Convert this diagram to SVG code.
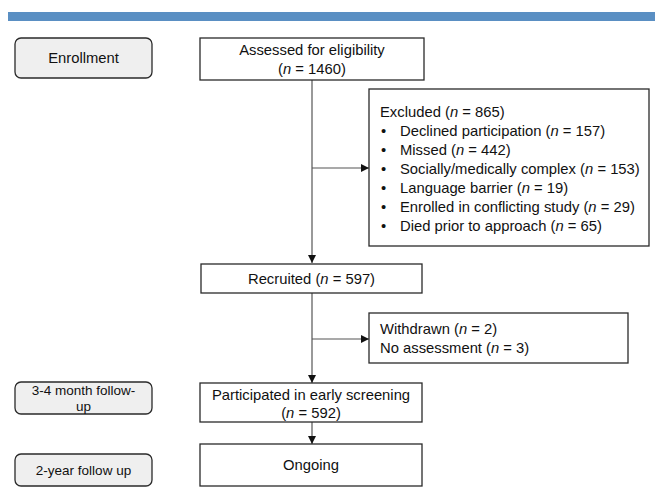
<svg xmlns="http://www.w3.org/2000/svg" width="658" height="493" viewBox="0 0 658 493">
<style>
text{font-family:"Liberation Sans",Arial,sans-serif;font-size:14.8px;fill:#111}
.i{font-style:italic}
.box{fill:#fff;stroke:#2a2a2a;stroke-width:1.3}
.side{fill:#efefef;stroke:#2a2a2a;stroke-width:1.3}
.c{text-anchor:middle}
.s{font-size:13.5px}
.ln{stroke:#555;stroke-width:1.2;fill:none}
</style>
<defs>
<marker id="ah" viewBox="0 0 10 10" refX="10" refY="5" markerWidth="8" markerHeight="8" markerUnits="userSpaceOnUse" orient="auto">
<path d="M0,0 L10,5 L0,10 z" fill="#111"/>
</marker>
</defs>
<rect x="8" y="12" width="647" height="9" fill="#5a8fc3"/>

<g id="enrollment">
<rect class="side" x="15" y="38" width="137" height="40" rx="6"/>
<text class="c" x="83.5" y="63">Enrollment</text>
</g>
<g id="followup34">
<rect class="side" x="15" y="382" width="137" height="32" rx="6"/>
<text class="c s" x="83.5" y="395">3-4 month follow-</text>
<text class="c s" x="83.5" y="411">up</text>
</g>
<g id="followup2y">
<rect class="side" x="15" y="454" width="137" height="32" rx="6"/>
<text class="c s" x="83.5" y="475">2-year follow up</text>
</g>

<g id="connectors">
<line class="ln" x1="312" y1="80" x2="312" y2="263" marker-end="url(#ah)"/>
<line class="ln" x1="312" y1="168" x2="369" y2="168" marker-end="url(#ah)"/>
<line class="ln" x1="312" y1="293" x2="312" y2="383" marker-end="url(#ah)"/>
<line class="ln" x1="312" y1="339" x2="369" y2="339" marker-end="url(#ah)"/>
<line class="ln" x1="312" y1="422" x2="312" y2="444" marker-end="url(#ah)"/>
</g>

<g id="assessed">
<rect class="box" x="200" y="38" width="224" height="42"/>
<text class="c" x="312" y="55">Assessed for eligibility</text>
<text class="c" x="312" y="74">(<tspan class="i">n</tspan> = 1460)</text>
</g>
<g id="excluded">
<rect class="box" x="369" y="89" width="280" height="157"/>
<text x="380" y="117">Excluded (<tspan class="i">n</tspan> = 865)</text>
<text x="381" y="136">•</text><text x="400" y="136">Declined participation (<tspan class="i">n</tspan> = 157)</text>
<text x="381" y="155">•</text><text x="400" y="155">Missed (<tspan class="i">n</tspan> = 442)</text>
<text x="381" y="174">•</text><text x="400" y="174">Socially/medically complex (<tspan class="i">n</tspan> = 153)</text>
<text x="381" y="193">•</text><text x="400" y="193">Language barrier (<tspan class="i">n</tspan> = 19)</text>
<text x="381" y="212">•</text><text x="400" y="212">Enrolled in conflicting study (<tspan class="i">n</tspan> = 29)</text>
<text x="381" y="231">•</text><text x="400" y="231">Died prior to approach (<tspan class="i">n</tspan> = 65)</text>
</g>
<g id="recruited">
<rect class="box" x="201" y="264" width="221" height="29"/>
<text class="c" x="311.5" y="284">Recruited (<tspan class="i">n</tspan> = 597)</text>
</g>
<g id="withdrawn">
<rect class="box" x="369" y="313" width="259" height="50"/>
<text x="380" y="334">Withdrawn (<tspan class="i">n</tspan> = 2)</text>
<text x="380" y="353">No assessment (<tspan class="i">n</tspan> = 3)</text>
</g>
<g id="participated">
<rect class="box" x="200" y="383" width="222" height="39"/>
<text class="c" x="311" y="400">Participated in early screening</text>
<text class="c" x="311" y="418">(<tspan class="i">n</tspan> = 592)</text>
</g>
<g id="ongoing">
<rect class="box" x="200" y="444" width="222" height="42"/>
<text class="c" x="311" y="470">Ongoing</text>
</g>
</svg>
